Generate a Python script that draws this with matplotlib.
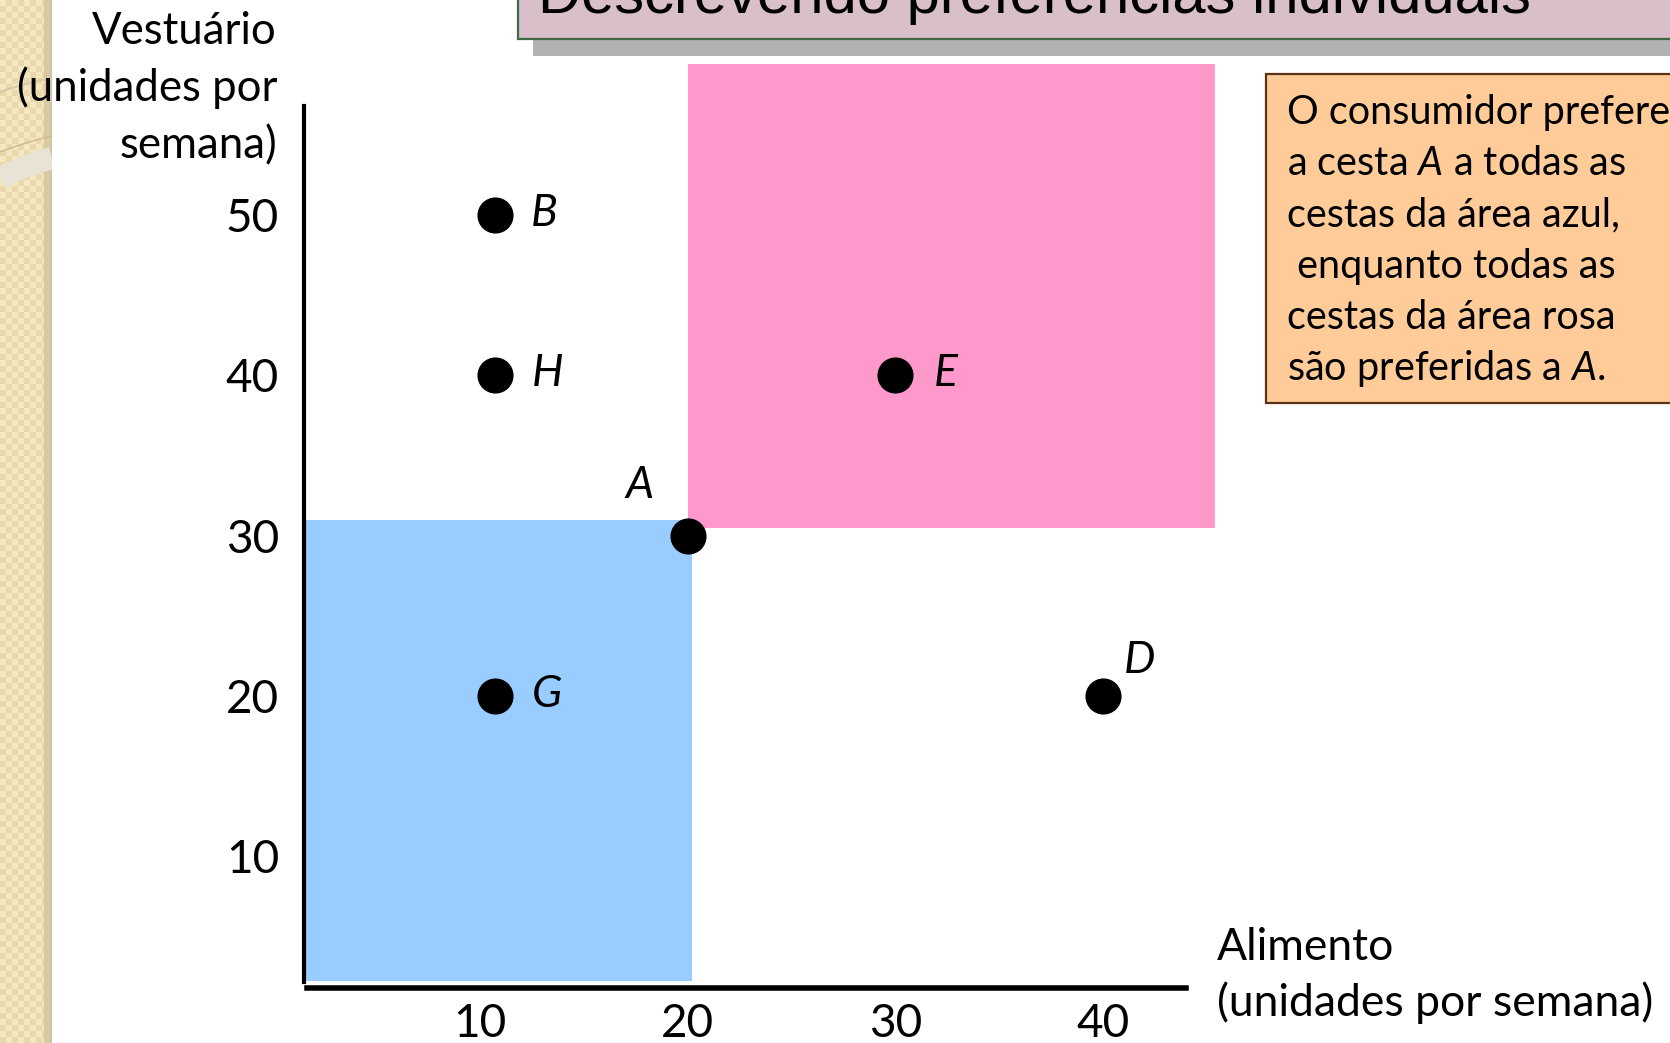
import numpy as np
import matplotlib.pyplot as plt
from matplotlib.patches import Rectangle

plt.rcParams['font.family'] = ['Lato', 'DejaVu Sans']
plt.rcParams['mathtext.fontset'] = 'custom'
plt.rcParams['mathtext.rm'] = 'Lato'
plt.rcParams['mathtext.it'] = 'Lato:italic'

# cestas de mercado: alimento e vestuário (unidades por semana)
cestas = ['A', 'B', 'D', 'E', 'G', 'H']
alimento = [20, 10.7, 40, 30, 10.7, 10.7]
vestuario = [30, 50, 20, 40, 20, 40]

# área azul (cestas piores que A) e área rosa (cestas preferidas a A)
azul_x = [1.5, 20.2]
azul_y = [2.2, 31.0]
rosa_x = [20.0, 45.4]
rosa_y = [30.5, 59.4]

x_ticks = [10, 20, 30, 40]
y_ticks = [10, 20, 30, 40, 50]

titulo = 'Descrevendo preferências individuais'
nota = ['O consumidor prefere',
        'a cesta $A$ a todas as',
        'cestas da área azul,',
        ' enquanto todas as',
        'cestas da área rosa',
        'são preferidas a $A$.']

W, H = 1670, 1043
fig = plt.figure(figsize=(W / 100, H / 100), dpi=100)
fig.patch.set_facecolor('white')

# faixa decorativa à esquerda
strip = fig.add_axes([0, 0, 52 / W, 1], zorder=0)
yy, xx = np.mgrid[0:H // 6 + 1, 0:9]
checker = ((yy + xx) % 2).astype(float)
strip.imshow(checker, cmap=plt.matplotlib.colors.ListedColormap(['#F5E7C0', '#E9D8AC']),
             extent=[0, 54, H, 0], aspect='auto', interpolation='nearest')
strip.add_patch(Rectangle((44, 0), 8, H, color='#D9C8A0'))
strip.add_patch(Rectangle((51, 0), 1.5, H, color='#C9C2B2'))
t = np.linspace(0, 1, 30)
strip.plot(52 * t, 178 - 20 * t - 6 * t * (1 - t), color='#E8E3D4', lw=16, solid_capstyle='butt')
strip.plot(52 * t, 152 - 16 * t - 4 * t * (1 - t), color='#CDBB8E', lw=1)
strip.plot(52 * t, 92 - 14 * t - 4 * t * (1 - t), color='#D8C9A6', lw=1.5)
strip.set_xlim(0, 52)
strip.set_ylim(H, 0)
strip.axis('off')

# gráfico principal
ax = fig.add_axes([304 / W, 1 - 988 / H, (1185.5 - 304) / W, (988 - 106.5) / H], zorder=1)
ax.set_xlim(1.52, 43.97)
ax.set_ylim(1.78, 56.77)
ax.patch.set_alpha(0)

ax.add_patch(Rectangle((azul_x[0], azul_y[0]), azul_x[1] - azul_x[0], azul_y[1] - azul_y[0],
                       facecolor='#99CCFF', edgecolor='none', zorder=1))
ax.add_patch(Rectangle((rosa_x[0], rosa_y[0]), rosa_x[1] - rosa_x[0], rosa_y[1] - rosa_y[0],
                       facecolor='#FF99CC', edgecolor='none', zorder=1, clip_on=False))

ax.plot(alimento, vestuario, 'o', ms=25, color='black', zorder=3, clip_on=False)

offsets = {'A': (-35, 27), 'D': (26, 16.5), 'H': (38, -8), 'G': (38, -8)}
for nome, x, y in zip(cestas, alimento, vestuario):
    dx, dy = offsets.get(nome, (36, -8))
    ax.annotate(nome, (x, y), xytext=(dx, dy), textcoords='offset points',
                ha='center', va='baseline', fontsize=32, fontstyle='italic', zorder=4)

for side in ['top', 'right']:
    ax.spines[side].set_visible(False)
ax.spines['left'].set_linewidth(3)
ax.spines['bottom'].set_linewidth(4)
ax.spines['left'].set_bounds(2.16, 56.77)
ax.spines['bottom'].set_bounds(1.67, 43.97)

ax.set_xticks(x_ticks)
ax.set_xticklabels([str(v) for v in x_ticks])
ax.set_yticks(y_ticks)
ax.set_yticklabels([str(v) for v in y_ticks])
ax.tick_params(axis='both', length=0, labelsize=33)
ax.tick_params(axis='x', pad=11)
ax.tick_params(axis='y', pad=18)

# textos e caixas em coordenadas de pixel
ov = fig.add_axes([0, 0, 1, 1], zorder=5)
ov.set_xlim(0, W)
ov.set_ylim(H, 0)
ov.axis('off')
ov.patch.set_alpha(0)

for texto, base in zip(['Vestuário', '(unidades por', 'semana)'], [44, 101, 158]):
    ov.text(277, base, texto, ha='right', va='baseline', fontsize=31.5)
for texto, base in zip(['Alimento', '(unidades por semana)'], [960, 1016]):
    ov.text(1217, base, texto, ha='left', va='baseline', fontsize=32)

# título (cortado no topo)
ov.add_patch(Rectangle((533, 38.5), W, 17, facecolor='#B2B2B2', edgecolor='none'))
ov.add_patch(Rectangle((518, -60), W, 98.5, facecolor='#D8BFCA', edgecolor='#3F6A48', lw=1.6))
ov.text(538, 13, titulo, ha='left', va='baseline', fontsize=43,
        family=['Liberation Sans', 'DejaVu Sans'])

# caixa explicativa
ov.add_patch(Rectangle((1266, 73.5), 500, 329, facecolor='#FFCC99', edgecolor='#5C3317', lw=1.6))
for i, linha in enumerate(nota):
    ov.text(1287, 124 + 51.2 * i, linha, ha='left', va='baseline', fontsize=28.5)

fig.savefig('out.png', dpi=100)
